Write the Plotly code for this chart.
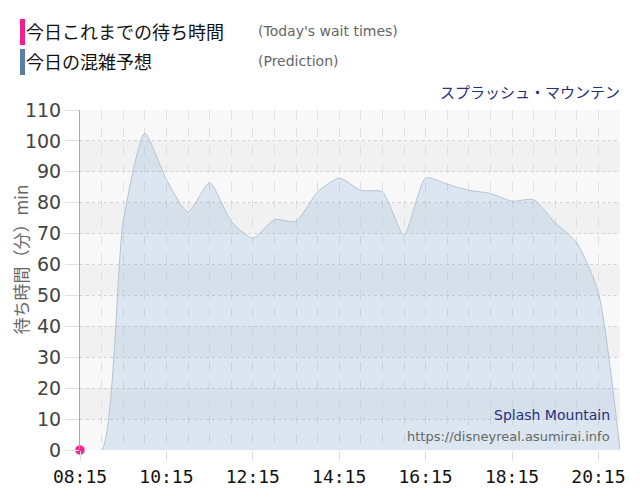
import plotly.graph_objects as go

DAY = '2024-01-01 '

# 30-minute prediction slots
pred_times = ['08:15', '08:45', '09:15', '09:45', '10:15', '10:45', '11:15',
              '11:45', '12:15', '12:45', '13:15', '13:45', '14:15', '14:45',
              '15:15', '15:45', '16:15', '16:45', '17:15', '17:45', '18:15',
              '18:45', '19:15', '19:45', '20:15', '20:45']
pred_values = [0, 0, 74, 102.5, 87.5, 77, 86.5, 74, 68.5, 74.5, 74, 83.5, 88,
               84, 83.5, 69.5, 88, 86, 84, 83, 80.5, 81, 73.5, 67, 51, 0]

actual_times = ['08:15']
actual_values = [0]

tick_labels = ['08:15', '10:15', '12:15', '14:15', '16:15', '18:15', '20:15']
y_ticks = [0, 10, 20, 30, 40, 50, 60, 70, 80, 90, 100, 110]


def main():
    fig = go.Figure()

    fig.add_trace(go.Scatter(
        x=[DAY + t for t in pred_times], y=pred_values,
        mode='lines', line=dict(color='#b6c4d3', width=1, shape='spline', smoothing=0.6),
        fill='tozeroy', fillcolor='rgba(110,160,210,0.2)',
        hoverinfo='skip', showlegend=False))

    fig.add_trace(go.Scatter(
        x=[DAY + t for t in actual_times], y=actual_values,
        mode='markers', cliponaxis=False,
        marker=dict(color='#f0288c', size=10, line=dict(color='#ffc0e0', width=1)),
        showlegend=False))

    # alternating horizontal bands
    shapes = []
    for lo in y_ticks[1:-1:2]:
        shapes.append(dict(type='rect', xref='paper', yref='y', x0=0, x1=1, y0=lo, y1=lo + 10,
                           fillcolor='#f1f1f1', line=dict(width=0), layer='below'))

    # page body has an 8px margin, so the figure is sized to fit the window
    fig.update_layout(
        width=632, height=492,
        margin=dict(l=72, r=20, t=102, b=50),
        paper_bgcolor='white', plot_bgcolor='#f8f8f8',
        font=dict(family='DejaVu Sans', color='#444'),
        shapes=shapes,
        xaxis=dict(
            type='date', range=[DAY + '08:15', DAY + '20:45'], automargin=False,
            tickvals=[DAY + t for t in tick_labels], ticktext=tick_labels,
            tickfont=dict(family='DejaVu Sans Mono', size=18, color='#111'),
            ticks='outside', ticklen=10, tickcolor='#e0e0e0',
            showgrid=True, gridcolor='#e0e0e0', griddash='dash', gridwidth=1,
            minor=dict(dtick=30 * 60 * 1000, tick0=DAY + '08:15', showgrid=True,
                       gridcolor='#e0e0e0', griddash='dash', gridwidth=1),
            showline=False, zeroline=False, fixedrange=True),
        yaxis=dict(
            range=[0, 110], tickvals=y_ticks, automargin=False,
            tickfont=dict(family='DejaVu Sans', size=19, color='#444'),
            ticks='outside', ticklen=14, tickcolor='#e0e0e0',
            showgrid=True, gridcolor='#d4d4d4', griddash='dot', gridwidth=1,
            showline=True, linecolor='#aaaaaa', linewidth=1,
            zeroline=False, fixedrange=True),
    )

    px = lambda v: (v - 80) / 540.0
    py = lambda v: (450 - v) / 340.0

    # header legend
    fig.add_shape(type='rect', xref='paper', yref='paper', x0=px(20), x1=px(25),
                  y0=py(45), y1=py(19), fillcolor='#f0208c', line=dict(width=0))
    fig.add_shape(type='rect', xref='paper', yref='paper', x0=px(20), x1=px(25),
                  y0=py(75), y1=py(49), fillcolor='#5b7ea9', line=dict(width=0))

    def label(text, x, y, size, color, anchor='left', family='Noto Sans CJK JP', angle=0):
        fig.add_annotation(text=text, xref='paper', yref='paper', x=x, y=y,
                           xanchor=anchor, yanchor='middle', showarrow=False, textangle=angle,
                           font=dict(family=family, size=size, color=color))

    label('待ち時間（分）min', px(5), py(260), 17, '#666', anchor='left', angle=-90)
    label('今日これまでの待ち時間', px(24), py(31), 18, '#111')
    label("(Today's wait times)", px(256), py(31), 14, '#666', family='DejaVu Sans')
    label('今日の混雑予想', px(24), py(61), 18, '#111')
    label('(Prediction)', px(256), py(61), 14, '#666', family='DejaVu Sans')
    label('スプラッシュ・マウンテン', px(622), py(92), 15, '#27307a', anchor='right')
    label('Splash Mountain', px(612), py(415), 14, '#27307a', anchor='right', family='DejaVu Sans')
    label('https://disneyreal.asumirai.info', px(612), py(436), 13, '#666', anchor='right',
          family='DejaVu Sans')

    fig.write_html('out.html')


if __name__ == '__main__':
    main()
